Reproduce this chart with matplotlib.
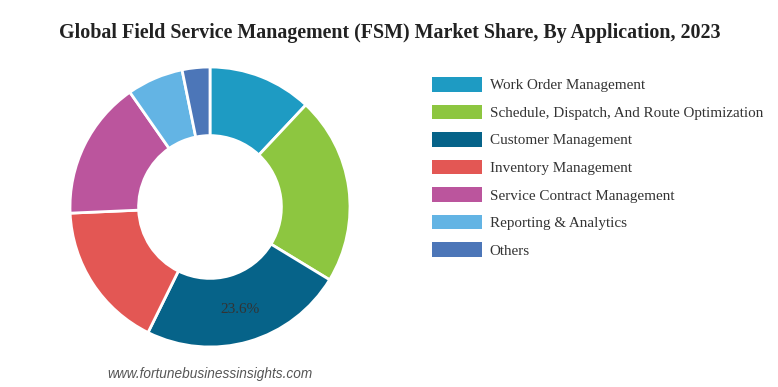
import matplotlib
matplotlib.use("Agg")
import matplotlib.pyplot as plt

categories = ["Work Order Management",
              "Schedule, Dispatch, And Route Optimization",
              "Customer Management",
              "Inventory Management",
              "Service Contract Management",
              "Reporting & Analytics",
              "Others"]
shares = [12.0, 21.7, 23.6, 17.0, 16.0, 6.5, 3.2]
colors = ["#1e9bc3", "#8dc640", "#066389", "#e35754", "#bb559d", "#63b4e4", "#4c76b8"]
title = "Global Field Service Management (FSM) Market Share, By Application, 2023"
labelled = "Customer Management"

fig = plt.figure(figsize=(7.78, 3.87), dpi=100)
ax = fig.add_axes([70/778, 40/387, 280/778, 280/387])

def fmt(p):
    return f"{p:.1f}%" if abs(p - shares[categories.index(labelled)]) < 0.05 else ""

wedges, texts, autotexts = ax.pie(
    shares, colors=colors, startangle=90, counterclock=False, radius=1,
    wedgeprops=dict(width=0.49, edgecolor="white", linewidth=2),
    autopct=fmt, pctdistance=0.765,
    textprops=dict(family="Liberation Serif", fontsize=11, color="#333333"))
ax.set_xlim(-1.0, 1.0)
ax.set_ylim(-1.0, 1.0)
ax.set_aspect("equal")
ax.axis("off")

fig.text(390/778, 1 - 33/387, title, ha="center", va="center",
         family="Liberation Serif", fontweight="bold", fontsize=14.4, color="#222222")

leg = fig.legend(wedges, categories, loc="upper left",
                 bbox_to_anchor=(432/778, 1 - 77/387), frameon=False,
                 prop=dict(family="Liberation Serif", size=10.9),
                 handlelength=3.3, handleheight=1.1, handletextpad=0.5,
                 labelspacing=0.80, borderpad=0, borderaxespad=0)
for t in leg.get_texts():
    t.set_color("#333333")
for h in leg.legend_handles:
    h.set_edgecolor("white")
    h.set_linewidth(0)

fig.text(210/778, 1 - 374/387, "www.fortunebusinessinsights.com", ha="center", va="center",
         family="Liberation Sans", style="italic", fontsize=9.8, color="#555555")

fig.savefig("out.png", dpi=100)
